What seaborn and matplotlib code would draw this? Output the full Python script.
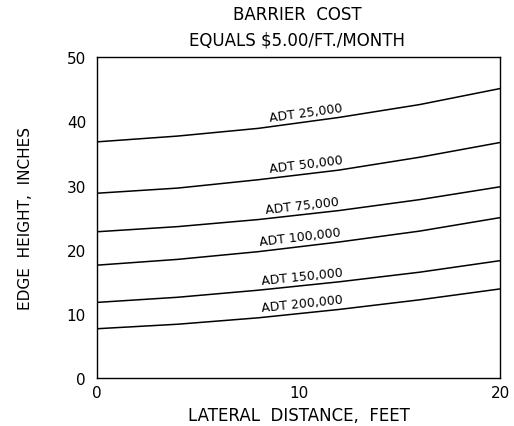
import numpy as np
import pandas as pd
import seaborn as sns
import matplotlib
matplotlib.use('Agg')
import matplotlib.pyplot as plt

# values
distance = [0, 4, 8, 12, 16, 20]
adt_labels = ['ADT 25,000', 'ADT 50,000', 'ADT 75,000', 'ADT 100,000', 'ADT 150,000', 'ADT 200,000']
h_25k = [36.8, 37.7, 38.9, 40.6, 42.6, 45.1]
h_50k = [28.8, 29.6, 30.9, 32.4, 34.4, 36.7]
h_75k = [22.8, 23.6, 24.7, 26.1, 27.8, 29.8]
h_100k = [17.6, 18.5, 19.7, 21.2, 22.9, 25.0]
h_150k = [11.8, 12.6, 13.7, 15.0, 16.5, 18.3]
h_200k = [7.7, 8.4, 9.4, 10.7, 12.2, 13.9]
heights = [h_25k, h_50k, h_75k, h_100k, h_150k, h_200k]
label_x = [10.4, 10.4, 10.2, 10.1, 10.2, 10.2]

rows = []
for lab, vals in zip(adt_labels, heights):
    for d, v in zip(distance, vals):
        rows.append({'distance': d, 'height': v, 'adt': lab})
df = pd.DataFrame(rows)

sns.set_style('white')
plt.rcParams['font.family'] = ['DejaVu Sans']
plt.rcParams['text.color'] = 'black'
plt.rcParams['axes.labelcolor'] = 'black'
plt.rcParams['xtick.color'] = 'black'
plt.rcParams['ytick.color'] = 'black'

fig = plt.figure(figsize=(5.14, 4.27), dpi=100)
ax = fig.add_axes([0.189, 0.112, 0.784, 0.752])

sns.lineplot(data=df, x='distance', y='height', hue='adt', palette=['black'] * 6,
             legend=False, linewidth=1.1, ax=ax)

ax.set_xlim(0, 20)
ax.set_ylim(0, 50)
ax.set_xticks([0, 10, 20])
ax.set_yticks([0, 10, 20, 30, 40, 50])
ax.tick_params(direction='in', length=5, width=1, color='black', labelsize=11, pad=5)
ax.tick_params(axis='y', pad=8)
for s in ax.spines.values():
    s.set_color('black')
    s.set_linewidth(1)

# line labels sitting on the curves
for lab, vals, lx in zip(adt_labels, heights, label_x):
    ly = np.interp(lx, distance, vals)
    slope = (np.interp(lx + 2, distance, vals) - np.interp(lx - 2, distance, vals)) / 4
    ax.text(lx, ly + 0.5, lab, fontsize=9, ha='center', va='bottom',
            rotation=np.degrees(np.arctan(slope)), rotation_mode='anchor',
            transform_rotates_text=True)

ax.set_xlabel('LATERAL  DISTANCE,  FEET', fontsize=12, labelpad=4)
ax.set_ylabel('EDGE  HEIGHT,  INCHES', fontsize=11, labelpad=24)
fig.text(0.578, 0.965, 'BARRIER  COST', fontsize=12, ha='center', va='center')
fig.text(0.578, 0.905, 'EQUALS $5.00/FT./MONTH', fontsize=12, ha='center', va='center')

fig.savefig('out.png', dpi=100)
